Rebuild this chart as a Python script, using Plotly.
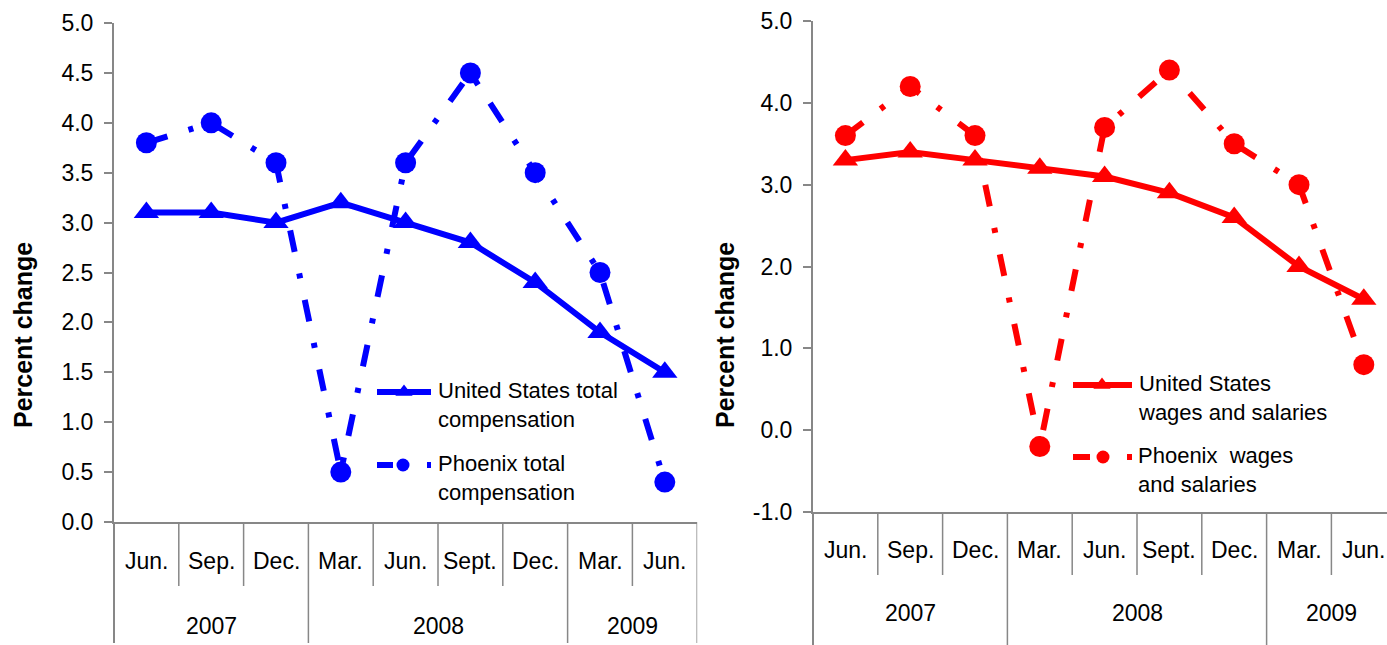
import plotly.graph_objects as go

# ---------------- data ----------------
months = ["Jun.", "Sep.", "Dec.", "Mar.", "Jun.", "Sept.", "Dec.", "Mar.", "Jun."]
years = ["2007", "2007", "2007", "2008", "2008", "2008", "2008", "2009", "2009"]
us_total_comp = [3.1, 3.1, 3.0, 3.2, 3.0, 2.8, 2.4, 1.9, 1.5]
phx_total_comp = [3.8, 4.0, 3.6, 0.5, 3.6, 4.5, 3.5, 2.5, 0.4]
us_wages = [3.3, 3.4, 3.3, 3.2, 3.1, 2.9, 2.6, 2.0, 1.6]
phx_wages = [3.6, 4.2, 3.6, -0.2, 3.7, 4.4, 3.5, 3.0, 0.8]
left_yticks = [0.0, 0.5, 1.0, 1.5, 2.0, 2.5, 3.0, 3.5, 4.0, 4.5, 5.0]
right_yticks = [-1.0, 0.0, 1.0, 2.0, 3.0, 4.0, 5.0]
left_legend = ["United States total<br>compensation", "Phoenix total<br>compensation"]
right_legend = ["United States<br>wages and salaries", "Phoenix  wages<br>and salaries"]
y_title = "Percent change"

# ---------------- layout helpers ----------------
W, H = 1387, 645
FONT = "Liberation Sans, Arial, sans-serif"
GRAY = "#878787"
BLUE = "#0000FF"
RED = "#FF0000"
DASH = "22px,22px,5px,22px"
TICK_SIZE = 23
LEG_SIZE = 22


def px(x):
    return x / W


def py(y):
    return 1 - y / H


idx = list(range(len(months)))
band = 64.8
L0 = 114
R0 = 813
left_dom = [px(L0), px(L0 + band * len(months))]
right_end = -0.5 + (W - R0) / band
right_dom = [px(R0), 1.0]

fig = go.Figure()

TRI = 22
CIRC = 21

# main series
fig.add_trace(go.Scatter(x=idx, y=us_total_comp, mode="lines+markers", xaxis="x", yaxis="y",
                         line=dict(color=BLUE, width=6),
                         marker=dict(symbol="triangle-up", size=TRI, color=BLUE), cliponaxis=False))
fig.add_trace(go.Scatter(x=idx, y=phx_total_comp, mode="lines+markers", xaxis="x", yaxis="y",
                         line=dict(color=BLUE, width=6, dash=DASH),
                         marker=dict(symbol="circle", size=CIRC, color=BLUE), cliponaxis=False))
fig.add_trace(go.Scatter(x=idx, y=us_wages, mode="lines+markers", xaxis="x2", yaxis="y2",
                         line=dict(color=RED, width=6),
                         marker=dict(symbol="triangle-up", size=TRI, color=RED), cliponaxis=False))
fig.add_trace(go.Scatter(x=idx, y=phx_wages, mode="lines+markers", xaxis="x2", yaxis="y2",
                         line=dict(color=RED, width=6, dash=DASH),
                         marker=dict(symbol="circle", size=CIRC, color=RED), cliponaxis=False))


# legend samples (overlay pixel axis)
def legend_samples(x0, x1, ysolid, ydash, mid_tri, mid_circ, color, dash):
    fig.add_trace(go.Scatter(x=[x0, x1], y=[ysolid, ysolid], mode="lines", xaxis="x3", yaxis="y3",
                             line=dict(color=color, width=6)))
    fig.add_trace(go.Scatter(x=[mid_tri], y=[ysolid], mode="markers", xaxis="x3", yaxis="y3",
                             marker=dict(symbol="triangle-up", size=15, color=color)))
    fig.add_trace(go.Scatter(x=[x0, x1], y=[ydash, ydash], mode="lines", xaxis="x3", yaxis="y3",
                             line=dict(color=color, width=6, dash=dash)))
    fig.add_trace(go.Scatter(x=[mid_circ], y=[ydash], mode="markers", xaxis="x3", yaxis="y3",
                             marker=dict(symbol="circle", size=13, color=color)))


legend_samples(377, 431, 392, 465, 404, 403, BLUE, "16px,34px,4px,60px")
legend_samples(1073, 1132, 385, 457, 1102, 1103, RED, "17px,37px,5px,60px")

annotations = []
shapes = []

# legend text
for txt, yc in zip(left_legend, [405, 478]):
    annotations.append(dict(text=txt, x=px(436), y=py(yc), xref="paper", yref="paper",
                            xanchor="left", yanchor="middle", align="left", showarrow=False,
                            font=dict(family=FONT, size=LEG_SIZE, color="black")))
for txt, yc in zip(right_legend, [398, 470]):
    annotations.append(dict(text=txt, x=px(1136), y=py(yc), xref="paper", yref="paper",
                            xanchor="left", yanchor="middle", align="left", showarrow=False,
                            font=dict(family=FONT, size=LEG_SIZE, color="black")))

# y titles
for xc, yc in [(23, 335), (725, 335)]:
    annotations.append(dict(text="<b>%s</b>" % y_title, x=px(xc), y=py(yc), xref="paper", yref="paper",
                            textangle=-90, showarrow=False, xanchor="center", yanchor="middle",
                            font=dict(family=FONT, size=25, color="black")))

# category axis labels and separators
year_groups = []
for i, yr in enumerate(years):
    if not year_groups or year_groups[-1][0] != yr:
        year_groups.append([yr, i, i])
    else:
        year_groups[-1][2] = i

boundaries_year = set()
for yr, a, b in year_groups:
    boundaries_year.add(a - 0.5)
    boundaries_year.add(b + 0.5)

for xr, base, m_y, yr_y, short_bot, long_bot in [("x", 522, 561, 626, 586, 643),
                                                  ("x2", 512, 550, 613, 575, 645)]:
    for i, m in enumerate(months):
        annotations.append(dict(text=m, x=i, y=py(m_y), xref=xr, yref="paper", showarrow=False,
                                xanchor="center", yanchor="middle",
                                font=dict(family=FONT, size=TICK_SIZE, color="black")))
    for yr, a, b in year_groups:
        annotations.append(dict(text=yr, x=(a + b) / 2, y=py(yr_y), xref=xr, yref="paper",
                                showarrow=False, xanchor="center", yanchor="middle",
                                font=dict(family=FONT, size=TICK_SIZE, color="black")))
    for k in range(1, len(months) + 1):
        xb = k - 0.5
        bot = long_bot if xb in boundaries_year else short_bot
        shapes.append(dict(type="line", xref=xr, yref="paper", x0=xb, x1=xb,
                           y0=py(base), y1=py(bot), line=dict(color=GRAY, width=1.5)))

# y-axis lines continue down as category-table edges
shapes.append(dict(type="line", xref="paper", yref="paper", x0=px(L0), x1=px(L0),
                   y0=py(522), y1=py(643), line=dict(color=GRAY, width=2)))
shapes.append(dict(type="line", xref="paper", yref="paper", x0=px(R0), x1=px(R0),
                   y0=py(512), y1=py(645), line=dict(color=GRAY, width=2)))

yaxis_common = dict(showgrid=False, zeroline=False, showline=True, linecolor=GRAY, linewidth=2,
                    ticks="outside", ticklen=8, tickcolor=GRAY, tickwidth=2, automargin=False,
                    tickfont=dict(family=FONT, size=TICK_SIZE, color="black"),
                    ticklabelstandoff=6)
xaxis_common = dict(showgrid=False, zeroline=False, showline=True, linecolor=GRAY, linewidth=2,
                    showticklabels=False, ticks="", automargin=False)

fig.update_layout(
    width=W, height=H,
    margin=dict(l=0, r=0, t=0, b=0, autoexpand=False),
    paper_bgcolor="white", plot_bgcolor="rgba(0,0,0,0)",
    showlegend=False,
    xaxis=dict(domain=left_dom, range=[-0.5, len(months) - 0.5], anchor="y", **xaxis_common),
    yaxis=dict(domain=[py(522), py(23)], range=[0, 5], tickvals=left_yticks,
               ticktext=["%.1f" % v for v in left_yticks], anchor="x", **yaxis_common),
    xaxis2=dict(domain=right_dom, range=[-0.5, right_end], anchor="y2", **xaxis_common),
    yaxis2=dict(domain=[py(512), py(21)], range=[-1, 5], tickvals=right_yticks,
                ticktext=["%.1f" % v for v in right_yticks], anchor="x2", **yaxis_common),
    xaxis3=dict(domain=[0, 1], range=[0, W], visible=False, anchor="y3"),
    yaxis3=dict(domain=[0, 1], range=[H, 0], visible=False, anchor="x3"),
    annotations=annotations,
    shapes=shapes,
)

fig.write_html("out.html", config={"displayModeBar": False},
               post_script="document.body.style.margin='0px';document.body.style.overflow='hidden';")
